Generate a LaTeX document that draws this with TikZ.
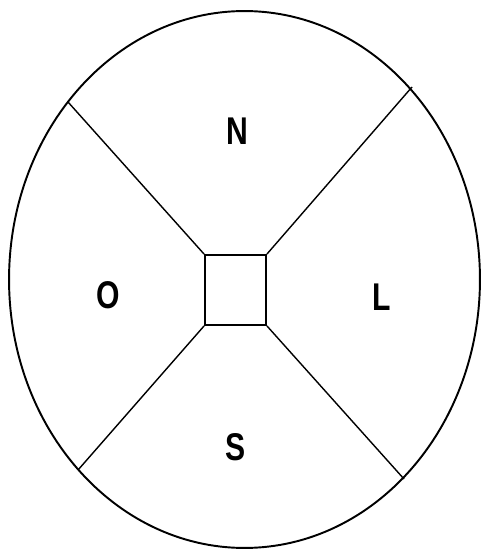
\documentclass[tikz,border=0pt]{standalone}
\usepackage{fontspec}
\setsansfont{Liberation Sans}
\usetikzlibrary{positioning}
\begin{document}
\begin{tikzpicture}[
  x=0.02cm, y=-0.02cm,
  rim/.style={draw=black, line width=1.1pt},
  spoke/.style={draw=black, line width=0.8pt},
  core/.style={rectangle, draw=black, line width=1.1pt, inner sep=0pt,
               minimum width=1.22cm, minimum height=1.4cm},
  region/.style={font=\sffamily\bfseries\fontsize{22}{26}\selectfont,
                 inner sep=0pt, xscale=0.78},
]
\useasboundingbox (0,0) rectangle (481,550);
% outer ring
\draw[rim] (244.5,279.5) ellipse [x radius=4.71cm, y radius=5.37cm];
% central box
\node[core] (core) at (235.5,290) {};
% ends of the spokes on the ring
\coordinate (rimnw) at (68,102);
\coordinate (rimne) at (412,87);
\coordinate (rimsw) at (78,470);
\coordinate (rimse) at (404,479);
% spokes
\draw[spoke] (core.north west) -- (rimnw);
\draw[spoke] (core.north east) -- (rimne);
\draw[spoke] (core.south west) -- (rimsw);
\draw[spoke] (core.south east) -- (rimse);
% region labels
\node[region] (north) at (237,131) {N};
\node[region] (west)  at (108,295) {O};
\node[region] (east)  at (382,297) {L};
\node[region] (south) at (236,447) {S};
\end{tikzpicture}
\end{document}
